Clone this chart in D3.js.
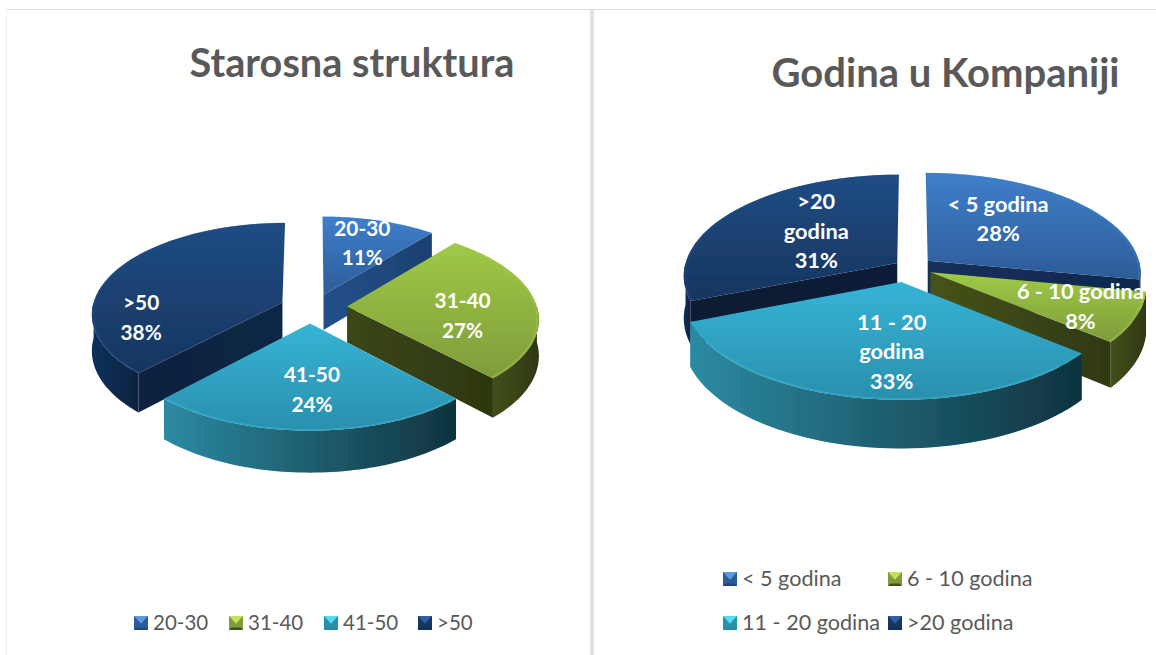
<!DOCTYPE html>
<html><head><meta charset="utf-8">
<script src="https://cdn.jsdelivr.net/npm/d3@7/dist/d3.min.js"></script>
<style>html,body{margin:0;padding:0;background:#fff}svg{display:block}text{font-family:Lato,"Open Sans",sans-serif}</style>
</head><body><svg id="c" width="1156" height="655"></svg>
<script>
// Data
const ageCategories = ["20-30","31-40","41-50",">50"];
const ageValues = [11,27,24,38];
const tenureCategories = ["< 5 godina","6 - 10 godina","11 - 20 godina",">20 godina"];
const tenureValues = [28,8,33,31];
const ageTitle = "Starosna struktura";
const tenureTitle = "Godina u Kompaniji";

// Styles by slice order
const topColors = [["#3f7fcb","#2c5c98"],["#9fca47","#7f9b3b"],["#36b4d6","#2a8fad"],["#204c84","#16355f"]];
const rimColors = [["#21477a","#1a3a66"],["#424f1a","#2f3811"],["#2c8aa2","#0f333e"],["#11305a","#0c2340"]];
const faceColors = [["#24508a","#1d4070"],["#3b4617","#2e3710"],["#1c5a6a","#10343f"],["#0e2340","#0e2644"]];
const faceColorsR = [["#14305a","#10284c"],["#46531a","#2f3811"],["#1c5a6a","#10343f"],["#0a1a30","#0b1e38"]];
const legendLight = ["#5a9be0","#c3e05a","#55dcf5","#2f5f9c"];

// Layout per chart
const leftChart = {categories:ageCategories,values:ageValues,title:ageTitle,titleX:352,titleY:77,titleSize:39.7,cx:311,cy:307,rx:190,ry:90,depth:36,persp:.12,
  explode:[.15,.19,.18,.14],nudge:[3,0,-1,-4],labelAngle:[22,97,180,257],labelRadius:[.65,.58,.65,.76],faces:faceColors,labelSize:20.8,labelLead:29.5,labelShift:[-2,3,0,0],labelShiftX:[-3,5,2,2],
  legendX:[134,229,324,418],legendY:[623,623,623,623],legendSize:20.5};
const rightChart = {categories:tenureCategories,values:tenureValues,title:tenureTitle,titleX:945.5,titleY:87,titleSize:40,cx:911,cy:268,rx:213,ry:100,depth:42,persp:.12,
  explode:[.115,.1,.14,.09],nudge:[-2,0,-5,2],labelAngle:[37,116,185.5,310],labelRadius:[.55,.75,.63,.51],faces:faceColorsR,labelSize:21.8,labelLead:29.5,labelShift:[0,0,0,0],labelShiftX:[5,-1,5,-2],
  legendX:[723,888,723,888],legendY:[579,579,623,623],legendSize:21.6};

const svg = d3.select("#c");
const defs = svg.append("defs");
defs.append("filter").attr("id","soft").attr("x","-5%").attr("y","-5%").attr("width","110%").attr("height","110%")
  .append("feGaussianBlur").attr("stdDeviation",.6);
let gid = 0;
function grad(stops,vertical){
  const id="g"+(gid++);
  const g=defs.append("linearGradient").attr("id",id).attr("x1",0).attr("y1",0).attr("x2",vertical?0:1).attr("y2",vertical?1:0);
  g.selectAll("stop").data(stops).join("stop").attr("offset",(d,i)=>i/(stops.length-1)).attr("stop-color",d=>d);
  return `url(#${id})`;
}

// frame
svg.append("line").attr("x1",6).attr("x2",1156).attr("y1",9.5).attr("y2",9.5).attr("stroke","#dcdcdc");
svg.append("line").attr("x1",6.5).attr("x2",6.5).attr("y1",10).attr("y2",655).attr("stroke","#f1f1f1");
svg.append("rect").attr("x",590).attr("y",10).attr("width",4).attr("height",645).attr("fill","#e2e2e2");

function draw(ch){
  const arcs = d3.pie().sort(null)(ch.values);
  const marks = svg.append("g").attr("filter","url(#soft)");
  const labels = svg.append("g");
  const proj = (i,mid,a,r,z=0)=>{
    const e=ch.explode[i];
    const u = e*Math.sin(mid)+r*Math.sin(a), v = e*Math.cos(mid)+r*Math.cos(a);
    const s = 1/(1+ch.persp*v);
    return [ch.cx+ch.nudge[i]+ch.rx*u*s, ch.cy-ch.ry*v*s+ch.depth*s*z];
  };
  const line = d3.line().curve(d3.curveLinear);
  const samples = (a0,a1)=>d3.range(0,61).map(i=>a0+(a1-a0)*i/60);
  const order = arcs.map((d,i)=>i).sort((p,q)=>Math.cos((arcs[q].startAngle+arcs[q].endAngle)/2)-Math.cos((arcs[p].startAngle+arcs[p].endAngle)/2));
  order.forEach(i=>{
    const d=arcs[i],a0=d.startAngle,a1=d.endAngle,mid=(a0+a1)/2;
    const P=(a,r,z)=>proj(i,mid,a,r,z);
    const g=marks.append("g");
    // cut faces
    [[a0,Math.sin(a0)<-1e-6],[a1,Math.sin(a1)>1e-6]].forEach(([a,vis])=>{
      if(!vis) return;
      g.append("path").attr("d",line([P(0,0,0),P(a,1,0),P(a,1,1),P(0,0,1)])+"Z").attr("fill",grad(ch.faces[i],false));
    });
    // outer rim
    const r0=Math.max(a0,Math.PI/2), r1=Math.min(a1,Math.PI*1.5);
    if(r1>r0){
      const s=samples(r0,r1);
      g.append("path").attr("d",line(s.map(a=>P(a,1,0)).concat(s.slice().reverse().map(a=>P(a,1,1))))+"Z").attr("fill",grad(rimColors[i],false));
    }
    // top face
    const s=samples(a0,a1);
    g.append("path").attr("d",line([P(0,0,0)].concat(s.map(a=>P(a,1,0))))+"Z").attr("fill",grad(topColors[i],true));
    g.append("path").attr("d",line(s.map(a=>P(a,.992,0)))).attr("fill","none").attr("stroke",topColors[i][0]).attr("stroke-opacity",.5).attr("stroke-width",1.6);
  });
  // data labels
  arcs.forEach((d,i)=>{
    const mid=(d.startAngle+d.endAngle)/2;
    const p=proj(i,mid,ch.labelAngle[i]*Math.PI/180,ch.labelRadius[i]);
    let name=ch.categories[i];
    const lines=(i===2||i===3)&&name.includes("godina")?name.replace(" godina","\ngodina").split("\n"):[name];
    lines.push(d3.format(".0f")(ch.values[i])+"%");
    const t=labels.append("text").attr("text-anchor","middle").attr("fill","#fff").attr("font-weight",700).attr("font-size",ch.labelSize);
    lines.forEach((l,k)=>t.append("tspan").attr("x",p[0]+ch.labelShiftX[i]).attr("y",p[1]+ch.labelShift[i]+(k-(lines.length-1)/2)*ch.labelLead+7).text(l));
  });
  // title
  svg.append("text").attr("x",ch.titleX).attr("y",ch.titleY).attr("text-anchor","middle").attr("font-size",ch.titleSize).attr("font-weight",700).attr("fill","#595959").text(ch.title);
  // legend
  ch.categories.forEach((c,i)=>{
    const x=ch.legendX[i],y=ch.legendY[i],g=svg.append("g").attr("transform",`translate(${x},${y})`);
    const sz=14;
    const sx=d3.scaleLinear().domain([0,1]).range([0,sz]), sy=d3.scaleLinear().domain([0,1]).range([-sz/2,sz/2]);
    g.append("rect").attr("x",0).attr("y",-sz/2).attr("width",sz).attr("height",sz).attr("fill",topColors[i][1]);
    const tri=(pts,col)=>g.append("path").attr("d",line(pts.map(p=>[sx(p[0]),sy(p[1])]))+"Z").attr("fill",col);
    tri([[0,1],[1,1],[.82,.82],[.18,.82]],rimColors[i][0]);
    tri([[0,0],[1,0],[.5,.55]],legendLight[i]);
    g.append("text").attr("x",sz+5).attr("y",7).attr("font-size",ch.legendSize).attr("fill","#595959").text(c);
  });
}
draw(leftChart);
draw(rightChart);
</script></body></html>
